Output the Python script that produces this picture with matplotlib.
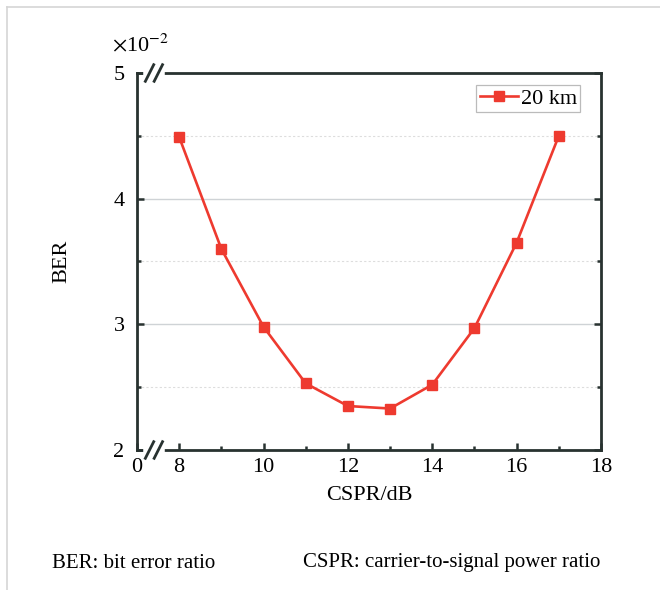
import matplotlib
matplotlib.use("Agg")
import matplotlib.pyplot as plt
from matplotlib.lines import Line2D
from matplotlib.ticker import MultipleLocator

plt.rcParams['font.family'] = ['Liberation Serif', 'DejaVu Serif']
plt.rcParams['mathtext.fontset'] = 'stix'

cspr = [8, 9, 10, 11, 12, 13, 14, 15, 16, 17]
ber = [4.49, 3.60, 2.98, 2.53, 2.35, 2.33, 2.52, 2.97, 3.65, 4.50]
xticks = [7, 8, 10, 12, 14, 16, 18]
xticklabels = ['0', '8', '10', '12', '14', '16', '18']
yticks = [2, 3, 4, 5]
series_label = '20 km'

red = '#EE3A2F'
dark = '#283230'

fig = plt.figure(figsize=(6.6, 5.9), dpi=100)
ax = fig.add_axes([137/660, 1-450/590, 464/660, 377/590])

ax.plot(cspr, ber, color=red, lw=1.9, marker='s', ms=7.5, label=series_label, zorder=3)
ax.set_xlim(7, 18)
ax.set_ylim(2, 5)
ax.set_xticks(xticks)
ax.set_xticklabels(xticklabels)
ax.set_yticks(yticks)
ax.xaxis.set_minor_locator(MultipleLocator(1))
ax.yaxis.set_minor_locator(MultipleLocator(0.5))
ax.tick_params(which='both', direction='in', labelsize=16, color=dark, width=1.8,
               right=True, top=False, pad=6)
ax.tick_params(which='major', length=5)
ax.tick_params(which='minor', length=3)
ax.tick_params(axis='y', pad=9)
for s in ax.spines.values():
    s.set_linewidth(2.0)
    s.set_color(dark)

ax.grid(axis='y', which='major', color='#cfd3d6', lw=1.0, zorder=0)
ax.grid(axis='y', which='minor', color='#dddddd', lw=0.8, ls=(0, (2, 2)), zorder=0)

ax.set_xlabel('CSPR/dB', fontsize=16, labelpad=6)
ax.set_ylabel('BER', fontsize=16, labelpad=30)

leg = ax.legend(loc='upper right', fontsize=16, frameon=True, fancybox=False,
                edgecolor='#aaaaaa', handlelength=1.75, handletextpad=0.1,
                borderpad=0.15, borderaxespad=0,
                bbox_to_anchor=(0.955, 0.968))
leg.get_frame().set_linewidth(0.9)

# axis break marks on top and bottom spines
for yb in (0.0, 1.0):
    ax.add_line(Line2D([0.020, 0.054], [yb, yb], transform=ax.transAxes,
                       color='white', lw=4, clip_on=False, zorder=5))
    for xb in (0.027, 0.046):
        ax.add_line(Line2D([xb - 0.009, xb + 0.009], [yb - 0.022, yb + 0.022],
                           transform=ax.transAxes, color=dark, lw=2.0,
                           clip_on=False, zorder=6))

fig.text(112/660, 1-45/590, r'$\times$10$^{-2}$', fontsize=16, va='center', ha='left')

fig.text(52/660, 1-563/590, 'BER: bit error ratio', fontsize=15, va='center', ha='left')
fig.text(303/660, 1-563/590, 'CSPR: carrier-to-signal power ratio', fontsize=15,
         va='center', ha='left')

# light frame lines (top, left)
fig.add_artist(Line2D([7/660, 1], [1-7/590, 1-7/590], transform=fig.transFigure,
                      color='#d5d5d5', lw=1.2))
fig.add_artist(Line2D([7/660, 7/660], [0, 1-7/590], transform=fig.transFigure,
                      color='#d5d5d5', lw=1.2))

fig.savefig('out.png', dpi=100)
